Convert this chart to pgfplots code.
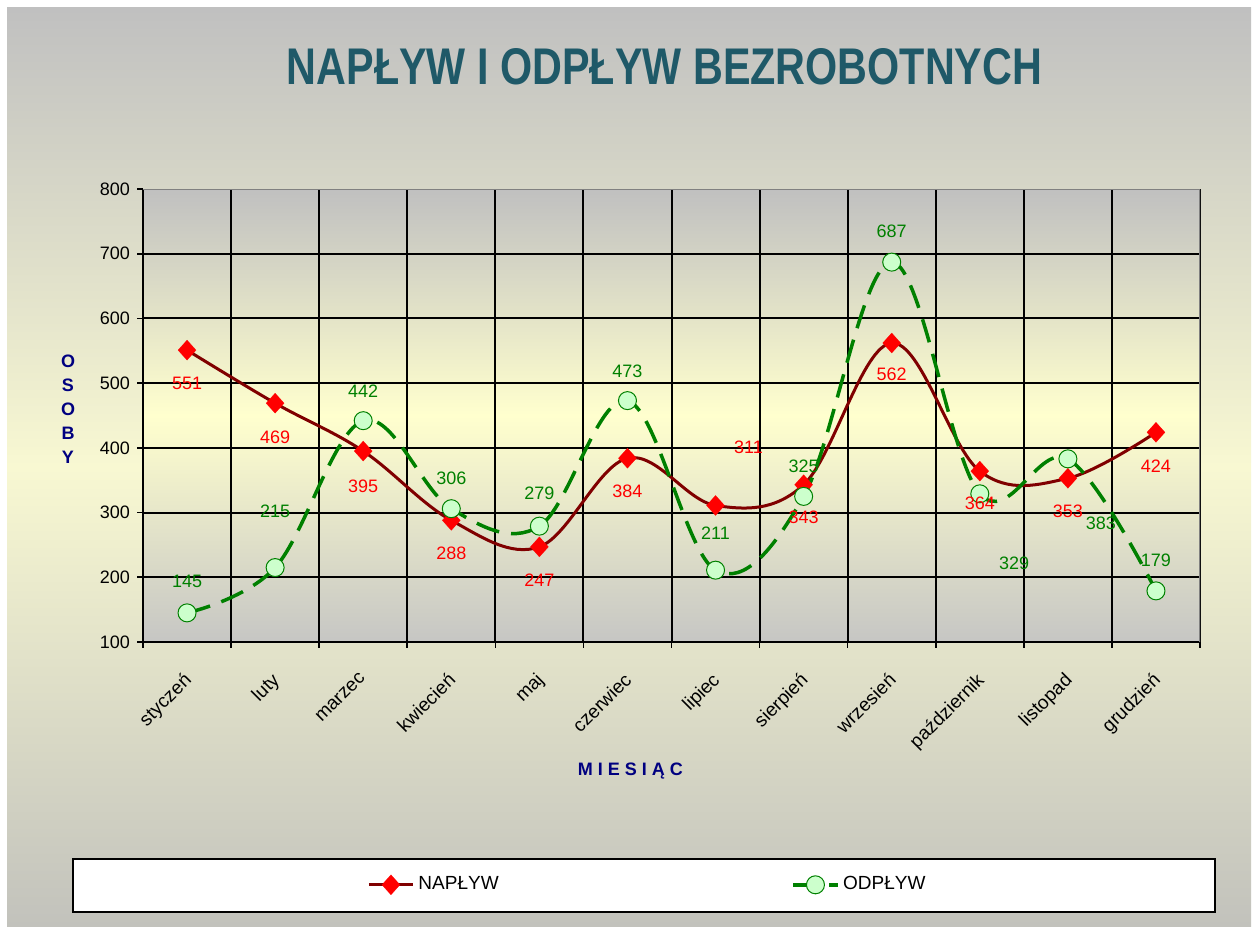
\documentclass[border=0pt]{standalone}
\usepackage{fontspec}
\setmainfont{Liberation Sans}
\usepackage{graphicx}
\usepackage{pgfplots}
\pgfplotsset{compat=1.18}
\definecolor{napl}{RGB}{128,0,0}
\definecolor{odpl}{RGB}{0,128,0}
\definecolor{odfill}{RGB}{204,255,204}
\definecolor{titlec}{RGB}{31,89,104}
\definecolor{navyc}{RGB}{0,0,128}
\definecolor{bgtop}{RGB}{192,192,192}
\definecolor{bgmid}{RGB}{248,248,210}
\definecolor{bgbot}{RGB}{194,194,188}
\definecolor{pltop}{RGB}{192,192,192}
\definecolor{plmid}{RGB}{255,255,206}
\definecolor{plbot}{RGB}{198,198,196}
\definecolor{frameg}{RGB}{128,128,128}
\begin{document}
\begin{tikzpicture}
\fill[white] (0pt,0pt) rectangle (628pt,465pt);
\shade[top color=bgtop, bottom color=bgbot, middle color=bgmid] (3.5pt,2pt) rectangle (625.5pt,461pt);
\node[anchor=base, text=titlec, inner sep=0pt] at (332.25pt,422.5pt)
  {\resizebox{377.5pt}{18pt}{\bfseries NAPŁYW I ODPŁYW BEZROBOTNYCH}};
\draw[black, line width=1pt, fill=white] (36.5pt,9pt) rectangle (607.5pt,35.5pt);
\begin{axis}[
  at={(71.5pt,144pt)}, anchor=south west,
  scale only axis, width=528.5pt, height=226.5pt,
  xmin=-0.5, xmax=11.5, ymin=100, ymax=800,
  axis x line*=bottom, axis y line*=left,
  xtick={0,1,2,3,4,5,6,7,8,9,10,11},
  xticklabels={styczeń,luty,marzec,kwiecień,maj,czerwiec,lipiec,sierpień,wrzesień,październik,listopad,grudzień},
  x tick label style={xshift=-2.3pt, yshift=-6.8pt, rotate=45, anchor=north east, font=\fontsize{9.5}{10}\selectfont},
  minor xtick={-0.5,0.5,1.5,2.5,3.5,4.5,5.5,6.5,7.5,8.5,9.5,10.5,11.5},
  major x tick style={draw=none},
  ytick={100,200,300,400,500,600,700},
  xmajorgrids=false, xminorgrids=true, ymajorgrids=true,
  extra y ticks={800}, extra y tick style={grid=none},
  major grid style={black, line width=1pt}, minor grid style={black, line width=1pt},
  tick align=outside, major tick length=3pt, minor tick length=3pt, xtick pos=bottom, ytick pos=left,
  axis line style={black, line width=1pt, -},
  tick style={black, line width=0.8pt},
  axis background/.style={top color=pltop, bottom color=plbot, middle color=plmid},
  /pgf/number format/assume math mode=true,
  y tick label style={font=\fontsize{9}{10}\selectfont},
  ylabel={O\\S\\O\\B\\Y},
  xlabel={M I E S I Ą C},
  every axis y label/.style={at={(rel axis cs:0,0.514)}, xshift=-37.5pt, anchor=center, align=center,
     font=\fontsize{9}{12}\selectfont\bfseries, text=navyc},
  every axis x label/.style={at={(rel axis cs:0.461,0)}, yshift=-64.5pt, anchor=center,
     font=\fontsize{9}{10}\selectfont\bfseries, text=navyc},
  legend style={at={(rel axis cs:0.2063,-0.536)}, anchor=west, legend columns=2, draw=none, fill=none,
     font=\fontsize{9.5}{11}\selectfont, /tikz/every even column/.append style={column sep=144.5pt}},
  legend cell align=left,
  legend image code/.code={\draw[mark repeat=2, mark phase=2] plot coordinates {(0pt,0pt) (11pt,0pt) (22pt,0pt)};},
]
\draw[frameg, line width=1.2pt] (rel axis cs:0,1) -- (rel axis cs:1,1) -- (rel axis cs:1,0);
\addplot[napl, line width=1.5pt, smooth, tension=0.6, mark=diamond*, mark size=5pt,
   mark options={solid, fill=red, draw=red, line width=0.1pt, xscale=1.2}] coordinates {
  (0,551) (1,469) (2,395) (3,288) (4,247) (5,384) (6,311) (7,343) (8,562) (9,364) (10,353) (11,424)};
\addlegendentry{NAPŁYW}
\addplot[odpl, line width=1.75pt, dash pattern=on 12pt off 6pt, smooth, tension=0.6, mark=*, mark size=4.5pt,
   mark options={solid, fill=odfill, draw=odpl, line width=0.5pt}] coordinates {
  (0,145) (1,215) (2,442) (3,306) (4,279) (5,473) (6,211) (7,325) (8,687) (9,329) (10,383) (11,179)};
\addlegendentry{ODPŁYW}
\addplot[forget plot, draw=none, mark=none, nodes near coords, point meta=explicit symbolic,
   nodes near coords align={center},
   every node near coord/.append style={text=red, font=\fontsize{9}{10}\selectfont}]
   table[meta=t] {
x y t
0 500 551
1 417 469
2 341 395
3 237 288
4 196 247
5 333 384
6.375 401 311
7 292 343
8 513 562
9 315 364
10 302 353
11 372 424
};
\addplot[forget plot, draw=none, mark=none, nodes near coords, point meta=explicit symbolic,
   nodes near coords align={center},
   every node near coord/.append style={text=odpl, font=\fontsize{9}{10}\selectfont}]
   table[meta=t] {
x y t
0 193 145
1 302 215
2 488 442
3 353 306
4 329 279
5 519 473
6 268 211
7 372 325
8 734 687
9.39 222 329
10.375 284 383
11 227 179
};
\end{axis}
\end{tikzpicture}
\end{document}
